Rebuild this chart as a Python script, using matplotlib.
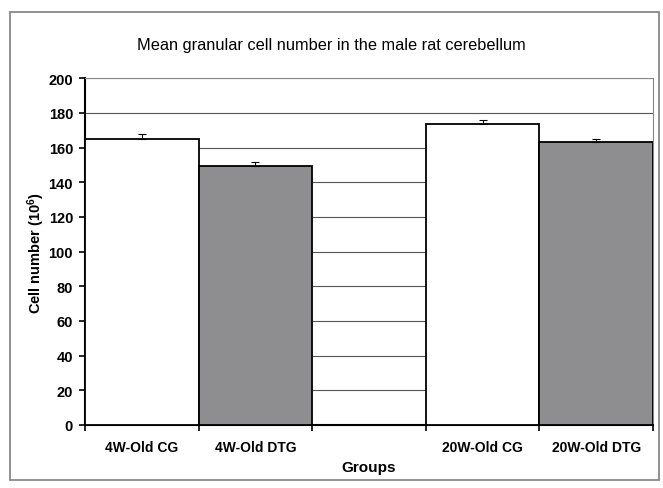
import matplotlib.pyplot as plt
import matplotlib.patches as patches
import numpy as np

plt.rcParams['font.family'] = ['Liberation Sans', 'DejaVu Sans']
plt.rcParams['mathtext.fontset'] = 'custom'
plt.rcParams['mathtext.rm'] = 'Liberation Sans:bold'
plt.rcParams['mathtext.bf'] = 'Liberation Sans:bold'
plt.rcParams['mathtext.default'] = 'bf'

# data
grupos = ['4W-Old CG', '4W-Old DTG', '', '20W-Old CG', '20W-Old DTG']
medias = [164.8, 149.1, 0, 173.5, 163.3]
erros = [2.9, 2.5, 0, 2.3, 1.9]
cores = ['white', '#8e8e91', 'white', 'white', '#8e8e91']
y_ticks = [0, 20, 40, 60, 80, 100, 120, 140, 160, 180, 200]

fig = plt.figure(figsize=(6.63, 4.89), dpi=100)
ax = fig.add_axes([0.128, 0.129, 0.857, 0.709])

x = np.arange(len(grupos))
for i in range(len(grupos)):
    if grupos[i] == '':
        continue
    ax.bar(x[i], medias[i], width=1.0, color=cores[i], edgecolor='black',
           linewidth=1.3, zorder=3)
    ax.errorbar(x[i], medias[i], yerr=[[0], [erros[i]]], fmt='none',
                ecolor='black', elinewidth=0.8, capsize=3, capthick=0.8, zorder=4)

ax.set_xlim(-0.5, len(grupos) - 0.5)
ax.set_ylim(0, 200)
ax.set_yticks(y_ticks)
ax.set_yticklabels([str(t) for t in y_ticks], fontsize=10.5, fontweight='bold')
ax.yaxis.grid(True, color='#555555', linewidth=0.8, zorder=0)
ax.set_axisbelow(True)

# ticks on category boundaries, labels in the centers
ax.set_xticks(np.arange(len(grupos) + 1) - 0.5)
ax.set_xticklabels([])
ax.set_xticks(x, minor=True)
ax.set_xticklabels(grupos, minor=True, fontsize=10, fontweight='bold')
ax.tick_params(axis='x', which='minor', length=0, pad=11)
ax.tick_params(axis='x', which='major', length=4, width=1.2, direction='out')
ax.tick_params(axis='y', length=4.5, width=1.2, direction='out', pad=4)

ax.spines['left'].set_linewidth(1.5)
ax.spines['bottom'].set_linewidth(1.5)
ax.spines['top'].set_color('#888888')
ax.spines['right'].set_color('#888888')

ax.set_xlabel('Groups', fontsize=11, fontweight='bold', labelpad=4)
ax.set_ylabel('Cell number (10$^6$)', fontsize=10.5, fontweight='bold', labelpad=1)
fig.text(0.500, 0.907, 'Mean granular cell number in the male rat cerebellum',
         fontsize=11.8, ha='center', va='center')

# outer frame
fig.patches.append(patches.Rectangle((10 / 663, 8 / 489), 649 / 663, 468 / 489,
                                     transform=fig.transFigure, fill=False,
                                     edgecolor='#888888', linewidth=1.3))

fig.savefig('out.png', dpi=100)
